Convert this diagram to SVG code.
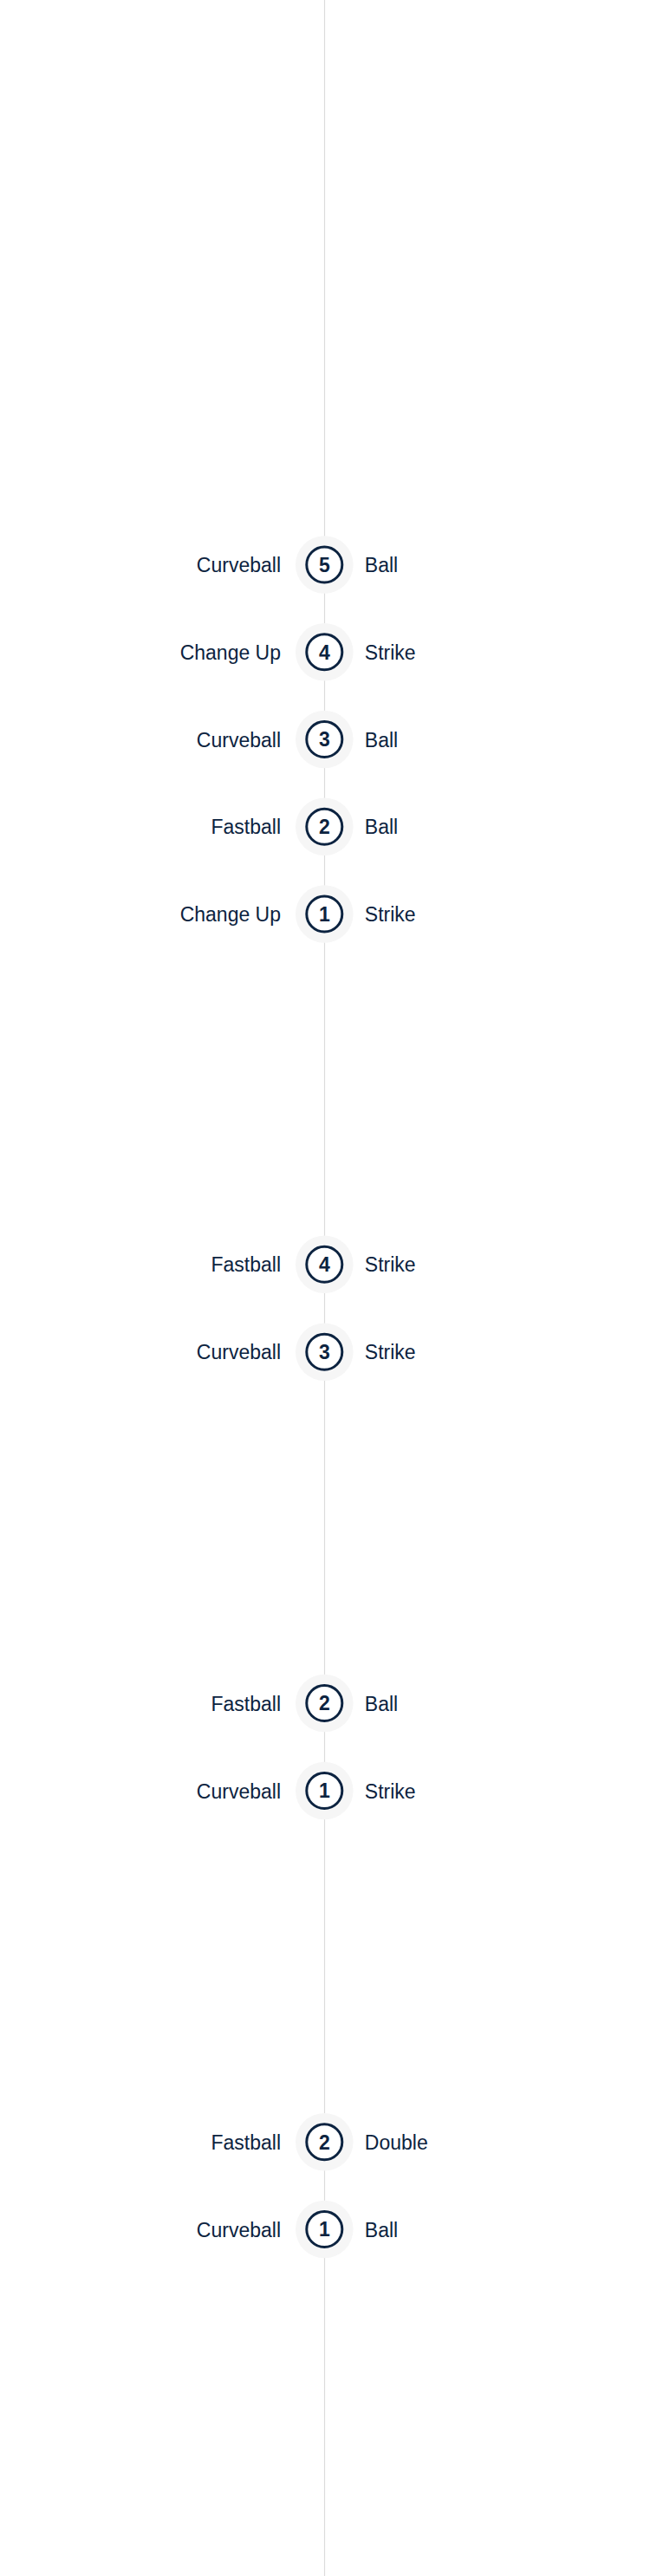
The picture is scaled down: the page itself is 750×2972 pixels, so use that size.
<svg xmlns="http://www.w3.org/2000/svg" width="750" height="2972" viewBox="0 0 750 2972">
<style>
.halo{fill:#f6f6f6}
.ring{fill:#ffffff;stroke:#0c2340;stroke-width:3}
.num{font-family:"Liberation Sans",Arial,sans-serif;font-size:23px;font-weight:bold;fill:#0c2340;text-anchor:middle}
.lt{font-family:"Liberation Sans",Arial,sans-serif;font-size:23px;fill:#0c2340;text-anchor:end}
.rt{font-family:"Liberation Sans",Arial,sans-serif;font-size:23px;fill:#0c2340;text-anchor:start}
</style>
<rect width="750" height="2972" fill="#ffffff"/>
<g id="connectors">
<line x1="374.5" y1="0" x2="374.5" y2="2972" stroke="#dcdcdc" stroke-width="1.2"/>
</g>
<g id="g1-p5" transform="translate(374.3,651.5)"><circle class="halo" r="33.3"/><circle class="ring" r="20.5"/><text class="num" y="8.2">5</text><text class="lt" x="-50.3" y="8.5">Curveball</text><text class="rt" x="46.5" y="8.5">Ball</text></g>
<g id="g1-p4" transform="translate(374.3,752.3)"><circle class="halo" r="33.3"/><circle class="ring" r="20.5"/><text class="num" y="8.2">4</text><text class="lt" x="-50.3" y="8.5">Change Up</text><text class="rt" x="46.5" y="8.5">Strike</text></g>
<g id="g1-p3" transform="translate(374.3,853)"><circle class="halo" r="33.3"/><circle class="ring" r="20.5"/><text class="num" y="8.2">3</text><text class="lt" x="-50.3" y="8.5">Curveball</text><text class="rt" x="46.5" y="8.5">Ball</text></g>
<g id="g1-p2" transform="translate(374.3,953.8)"><circle class="halo" r="33.3"/><circle class="ring" r="20.5"/><text class="num" y="8.2">2</text><text class="lt" x="-50.3" y="8.5">Fastball</text><text class="rt" x="46.5" y="8.5">Ball</text></g>
<g id="g1-p1" transform="translate(374.3,1054.5)"><circle class="halo" r="33.3"/><circle class="ring" r="20.5"/><text class="num" y="8.2">1</text><text class="lt" x="-50.3" y="8.5">Change Up</text><text class="rt" x="46.5" y="8.5">Strike</text></g>
<g id="g2-p4" transform="translate(374.3,1458.7)"><circle class="halo" r="33.3"/><circle class="ring" r="20.5"/><text class="num" y="8.2">4</text><text class="lt" x="-50.3" y="8.5">Fastball</text><text class="rt" x="46.5" y="8.5">Strike</text></g>
<g id="g2-p3" transform="translate(374.3,1559.7)"><circle class="halo" r="33.3"/><circle class="ring" r="20.5"/><text class="num" y="8.2">3</text><text class="lt" x="-50.3" y="8.5">Curveball</text><text class="rt" x="46.5" y="8.5">Strike</text></g>
<g id="g3-p2" transform="translate(374.3,1965)"><circle class="halo" r="33.3"/><circle class="ring" r="20.5"/><text class="num" y="8.2">2</text><text class="lt" x="-50.3" y="8.5">Fastball</text><text class="rt" x="46.5" y="8.5">Ball</text></g>
<g id="g3-p1" transform="translate(374.3,2066)"><circle class="halo" r="33.3"/><circle class="ring" r="20.5"/><text class="num" y="8.2">1</text><text class="lt" x="-50.3" y="8.5">Curveball</text><text class="rt" x="46.5" y="8.5">Strike</text></g>
<g id="g4-p2" transform="translate(374.3,2471.3)"><circle class="halo" r="33.3"/><circle class="ring" r="20.5"/><text class="num" y="8.2">2</text><text class="lt" x="-50.3" y="8.5">Fastball</text><text class="rt" x="46.5" y="8.5">Double</text></g>
<g id="g4-p1" transform="translate(374.3,2572)"><circle class="halo" r="33.3"/><circle class="ring" r="20.5"/><text class="num" y="8.2">1</text><text class="lt" x="-50.3" y="8.5">Curveball</text><text class="rt" x="46.5" y="8.5">Ball</text></g>
</svg>
